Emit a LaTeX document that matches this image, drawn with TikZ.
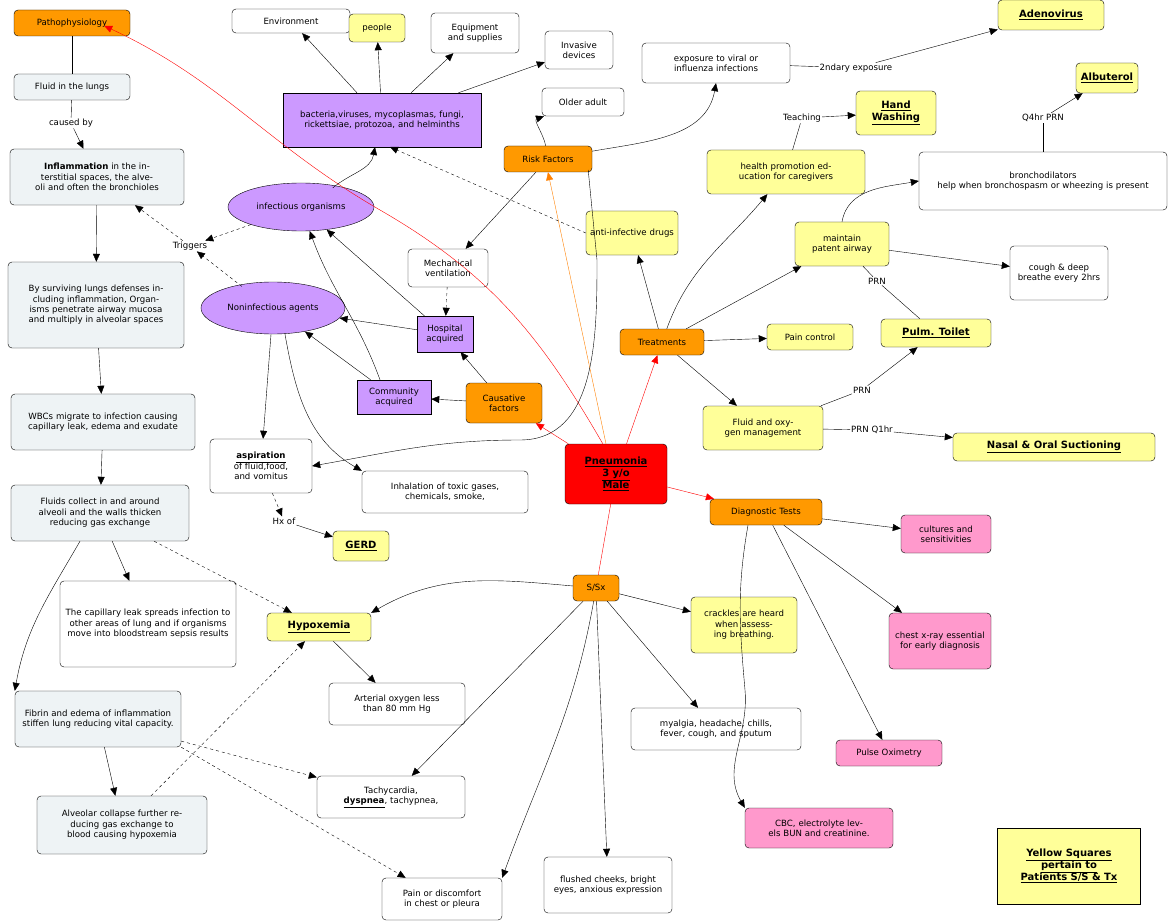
\documentclass[tikz,border=0pt]{standalone}
\usepackage{fontspec}
\setmainfont{DejaVu Sans}
\usetikzlibrary{arrows.meta,shapes.geometric,calc}
\definecolor{org}{HTML}{FF9900}
\definecolor{yel}{HTML}{FFFF99}
\definecolor{pur}{HTML}{CC99FF}
\definecolor{pnk}{HTML}{FF99CC}
\definecolor{lb}{HTML}{EEF3F5}
\begin{document}
\begin{tikzpicture}[x=1pt,y=-1pt,font=\fontsize{8.6}{10.4}\selectfont,
 b/.style={draw,rounded corners=4pt,align=center,inner sep=2pt},
 o/.style={b,fill=org},yw/.style={b,fill=yel},w/.style={b,fill=white},
 p/.style={draw,fill=pur,align=center,inner sep=2pt},
 k/.style={b,fill=pnk},l/.style={b,fill=lb},
 e/.style={draw,ellipse,fill=pur,inner sep=1pt},
 t/.style={fill=white,inner sep=1pt},
 a/.style={-{Triangle[length=8pt,width=7pt]}},
 d/.style={a,dashed},
 r/.style={red,-{Triangle[length=8pt,width=7pt]}}]
\useasboundingbox (0,0) rectangle (1171,923);
% nodes
\node[o,minimum width=116,minimum height=26] (patho) at (72,23) {Pathophysiology};
\node[l,minimum width=116,minimum height=26] (fluid) at (72,87) {Fluid in the lungs};
\node[t] (caused) at (71,123) {caused by};
\node[l,text width=170,minimum height=56] (infl) at (97,177) {\textbf{Inflammation} in the interstitial spaces, the alveoli and often the bronchioles};
\node[l,text width=172,minimum height=86] (surv) at (96,305) {By surviving lungs defenses including inflammation, Organisms penetrate airway mucosa and multiply in alveolar spaces};
\node[l,text width=180,minimum height=56] (wbc) at (103,422) {WBCs migrate to infection causing capillary leak, edema and exudate};
\node[l,text width=174,minimum height=56] (fluids) at (100,513) {Fluids collect in and around alveoli and the walls thicken reducing gas exchange};
\node[w,text width=172,minimum height=86] (cap) at (148,624) {The capillary leak spreads infection to other areas of lung and if organisms move into bloodstream sepsis results};
\node[l,text width=162,minimum height=56] (fib) at (98,719) {Fibrin and edema of inflammation stiffen lung reducing vital capacity.};
\node[l,text width=166,minimum height=58] (alv) at (122,825) {Alveolar collapse further reducing gas exchange to blood causing hypoxemia};
\node[w,minimum width=118,minimum height=24] (env) at (291,21) {Environment};
\node[yw,minimum width=56,minimum height=28] (people) at (377,28) {people};
\node[w,text width=84,minimum height=40] (equip) at (475,33) {Equipment and supplies};
\node[w,text width=64,minimum height=38] (inv) at (579,50) {Invasive devices};
\node[p,text width=194,minimum height=54] (bact) at (382,120) {bacteria,viruses, mycoplasmas, fungi, rickettsiae, protozoa, and helminths};
\node[e,minimum width=146,minimum height=48] (infect) at (301,207) {infectious organisms};
\node[e,minimum width=144,minimum height=52] (nonin) at (273,308) {Noninfectious agents};
\node[t] (trig) at (190,246) {Triggers};
\node[w,text width=76,minimum height=38] (mech) at (448,268) {Mechanical ventilation};
\node[p,text width=52,minimum height=36] (hosp) at (445,334) {Hospital acquired};
\node[p,text width=70,minimum height=34] (comm) at (394,397) {Community acquired};
\node[o,text width=72,minimum height=40] (caus) at (504,403) {Causative factors};
\node[w,text width=98,minimum height=54] (asp) at (261,466) {\underline{\textbf{aspiration}} of fluid,food, and vomitus};
\node[t] (hx) at (284,521) {Hx of};
\node[yw,minimum width=56,minimum height=30,font=\fontsize{10}{12}\selectfont\bfseries] (gerd) at (361,546) {\underline{GERD}};
\node[w,text width=162,minimum height=42] (inh) at (445,492) {Inhalation of toxic gases, chemicals, smoke,};
\node[b,fill=red,text width=98,minimum height=60,font=\fontsize{10}{12}\selectfont\bfseries] (pneu) at (616,474) {\underline{Pneumonia}\\\underline{3 y/o}\\\underline{Male}};
\node[w,minimum width=82,minimum height=28] (older) at (583,102) {Older adult};
\node[o,minimum width=88,minimum height=26] (risk) at (548,159) {Risk Factors};
\node[w,text width=144,minimum height=40] (expo) at (716,63) {exposure to viral or influenza infections};
\node[t] (sec) at (856,68) {2ndary exposure};
\node[yw,minimum width=106,minimum height=30,font=\fontsize{10}{12}\selectfont\bfseries] (aden) at (1051,15) {\underline{Adenovirus}};
\node[yw,minimum width=62,minimum height=30,font=\fontsize{10}{12}\selectfont\bfseries] (alb) at (1107,78) {\underline{Albuterol}};
\node[t] (q4) at (1043,118) {Q4hr PRN};
\node[w,text width=244,minimum height=58] (bron) at (1043,181) {bronchodilators\\help when bronchospasm or wheezing is present};
\node[yw,text width=76,minimum height=44,font=\fontsize{10}{12}\selectfont\bfseries] (hand) at (896,113) {\underline{Hand}\\\underline{Washing}};
\node[t] (teach) at (802,118) {Teaching};
\node[yw,text width=154,minimum height=44] (health) at (786,172) {health promotion education for caregivers};
\node[yw,text width=88,minimum height=44] (anti) at (632,233) {anti-infective drugs};
\node[yw,text width=90,minimum height=44] (maint) at (842,244) {maintain patent airway};
\node[w,text width=94,minimum height=54] (cough) at (1059,273) {cough \& deep breathe every 2hrs};
\node[t] (prn1) at (877,281) {PRN};
\node[yw,minimum width=110,minimum height=28,font=\fontsize{10}{12}\selectfont\bfseries] (pulm) at (936,333) {\underline{Pulm. Toilet}};
\node[yw,minimum width=86,minimum height=26] (pain) at (810,337) {Pain control};
\node[o,minimum width=84,minimum height=26] (treat) at (662,342) {Treatments};
\node[yw,text width=116,minimum height=44] (fox) at (763,428) {Fluid and oxygen management};
\node[t] (prn2) at (862,390) {PRN};
\node[t] (prnq) at (872,430) {PRN Q1hr};
\node[yw,minimum width=202,minimum height=28,font=\fontsize{10}{12}\selectfont\bfseries] (nasal) at (1054,447) {\underline{Nasal \& Oral Suctioning}};
\node[o,minimum width=112,minimum height=26] (diag) at (766,512) {Diagnostic Tests};
\node[k,text width=86,minimum height=38] (cult) at (946,534) {cultures and sensitivities};
\node[k,text width=98,minimum height=56] (chest) at (940,641) {chest x-ray essential for early diagnosis};
\node[k,minimum width=106,minimum height=26] (pulse) at (889,753) {Pulse Oximetry};
\node[k,text width=144,minimum height=40] (cbc) at (819,828) {CBC, electrolyte levels BUN and creatinine.};
\node[o,minimum width=46,minimum height=26] (ssx) at (596,588) {S/Sx};
\node[yw,minimum width=104,minimum height=28,font=\fontsize{10}{12}\selectfont\bfseries] (hyp) at (319,627) {\underline{Hypoxemia}};
\node[w,text width=132,minimum height=42] (art) at (397,704) {Arterial oxygen less than 80 mm Hg};
\node[yw,text width=102,minimum height=56] (crack) at (744,625) {crackles are heard when assessing breathing.};
\node[w,text width=166,minimum height=42] (myal) at (716,729) {myalgia, headache, chills, fever, cough, and sputum};
\node[w,text width=144,minimum height=42] (tachy) at (391,797) {Tachycardia,\\\underline{\textbf{dyspnea}}, tachypnea,};
\node[w,text width=124,minimum height=56] (flush) at (608,885) {flushed cheeks, bright eyes, anxious expression};
\node[w,text width=116,minimum height=42] (pch) at (442,899) {Pain or discomfort in chest or pleura};
\node[draw,fill=yel,text width=136,minimum height=76,align=center,font=\fontsize{10}{12}\selectfont\bfseries] (ysq) at (1069,866) {\underline{Yellow Squares}\\\underline{pertain to}\\\underline{Patients S/S \& Tx}};
% connectors
\draw[r] ($(pneu.north west)+(38,0)$) to[out=120,in=-30] (380,210) to[out=150,in=-25] ($(patho.north east)+(-26,16)$);
\draw[r] (pneu) -- (caus);
\draw[orange,-{Triangle[length=8pt,width=7pt]}] ($(pneu.north)+(-10,0)$) -- (risk.south);
\draw[r] (pneu) -- (treat);
\draw[r] (pneu) -- (diag);
\draw[red] (pneu) -- (ssx);
\draw (patho) -- (fluid);
\draw (fluid) -- (caused);
\draw[a] (caused) -- (infl);
\draw[a] (infl) -- (surv);
\draw[a] (surv) -- (wbc);
\draw[a] (wbc) -- (fluids);
\draw[a] (fluids) -- (cap);
\draw[a] ($(fluids.south)+(-20,0)$) to[out=-120,in=80] (fib.north west);
\draw[d] (fluids) -- (hyp);
\draw[a] (fib) -- (alv);
\draw[d] (fib) -- (tachy);
\draw[d] (fib.south east) -- (pch);
\draw[d] (alv) -- (hyp);
\draw[a] (bact) -- (env);
\draw[a] (bact) -- (people);
\draw[a] (bact) -- (equip);
\draw[a] (bact) -- (inv);
\draw[a] ($(infect.north east)+(-20,-2)$) to[out=40,in=-100] (375,147);
\draw[d] (infect) -- (trig);
\draw[d] ($(nonin.north west)+(20,-3)$) -- (trig);
\draw[d] (trig) -- (infl);
\draw[d] (anti.west) -- (390,147);
\draw[a] (risk) to[out=100,in=200] (older);
\draw[a] (risk) to[out=10,in=-100] (expo.south);
\draw[a] (risk) -- (mech);
\draw[a] ($(risk.east)+(-4,11)$) -- (597,260) to[out=-90,in=0] (520,440) to[out=180,in=10] (asp.east);
\draw (expo) -- (sec);
\draw[a] (sec) -- (aden);
\draw[d] (mech) -- (hosp);
\draw[a] (hosp) -- (infect);
\draw[a] (hosp) -- (nonin);
\draw[a] ($(comm.north)+(-14,0)$) to[out=110,in=-70] (infect);
\draw[a] (comm) -- (nonin);
\draw[a] (caus) -- (hosp);
\draw[a] (caus) -- (comm);
\draw[a] (nonin) -- (asp);
\draw[a] ($(nonin.south)+(12,0)$) to[out=-80,in=150] (inh.north west);
\draw[d] (asp) -- (hx);
\draw[a] (hx) -- (gerd);
\draw[a] (treat) -- (anti);
\draw[a] (treat) to[out=70,in=-130] (health);
\draw[a] (treat) -- (maint);
\draw[a] (treat) -- (pain);
\draw[a] (treat) -- (fox);
\draw (health) -- (teach);
\draw[a] (teach) -- (hand);
\draw[a] (maint.north) to[out=80,in=190] (bron.west);
\draw[a] (maint) -- (cough);
\draw (maint) -- (prn1) -- (pulm);
\draw (bron) -- (q4);
\draw[a] (q4) -- (alb);
\draw (fox) -- (prn2);
\draw[a] (prn2) -- (pulm);
\draw (fox) -- (prnq);
\draw[a] (prnq) -- (nasal);
\draw[a] (diag) -- (cult);
\draw[a] (diag) -- (chest);
\draw[a] (diag) -- (pulse);
\draw[a] ($(diag.south)+(-18,0)$) to[out=-100,in=95] (745,690) to[out=-85,in=120] (cbc.north west);
\draw[a] (ssx) to[out=175,in=30] (hyp.north east);
\draw[a] (ssx) -- (crack);
\draw[a] (ssx) -- (myal);
\draw[a] (ssx) -- (tachy);
\draw[a] (ssx) -- (flush);
\draw[a] (ssx) to[out=-100,in=70] (pch.north east);
\draw[a] (hyp) -- (art);
\end{tikzpicture}
\end{document}
